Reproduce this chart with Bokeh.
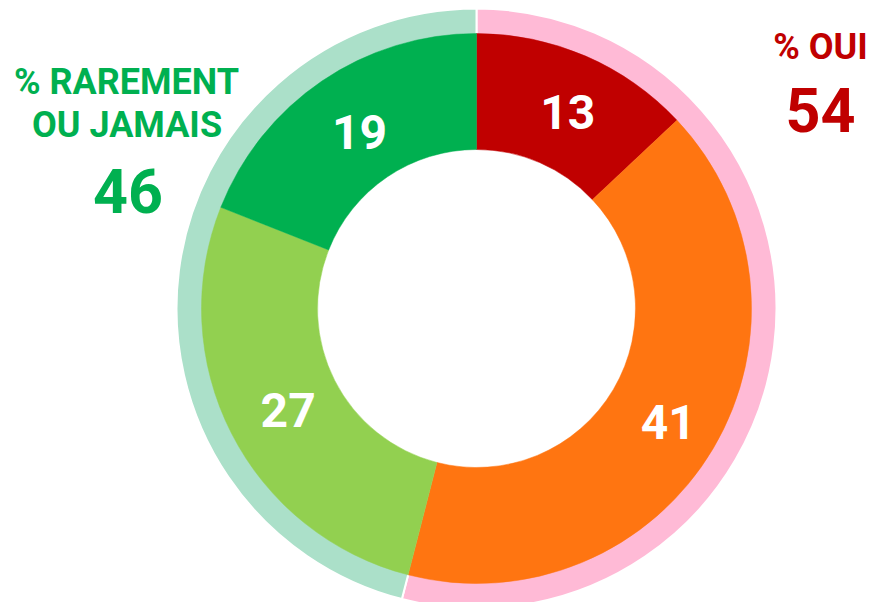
import math
from bokeh.plotting import figure
from bokeh.models import Range1d, ColumnDataSource
from bokeh.core.properties import value
from bokeh.embed import file_html
from bokeh.resources import INLINE

# ---- data ----
segment_values = [13, 41, 27, 19]
segment_labels = ["13", "41", "27", "19"]
segment_colors = ["#C00000", "#FF7511", "#92D050", "#00B050"]

group_values = [54, 46]
group_title_lines = [["% OUI"], ["% RAREMENT", "OU JAMAIS"]]
group_labels = ["54", "46"]
group_ring_colors = ["#FFBAD6", "#ABE0C9"]
group_text_colors = ["#C00000", "#00B050"]

# ---- layout (pixel-like data coordinates: x = image x, y = 602 - image y) ----
W, H = 879, 602
FONT = "Roboto"
p = figure(width=W, height=H, output_backend="svg", toolbar_location=None,
           x_range=Range1d(0, W), y_range=Range1d(602 - H, 602),
           min_border=0, background_fill_color="white", border_fill_color="white")
p.axis.visible = False
p.grid.visible = False
p.outline_line_color = None

cx, cy = 476, 602 - 308
r_in, r_out, r_ring = 159, 275, 300


def wedges(values):
    total = float(sum(values))
    starts, ends, mids = [], [], []
    acc = 0.0
    for v in values:
        f0, f1 = acc / total, (acc + v) / total
        # clockwise from 12 o'clock
        starts.append(math.pi / 2 - 2 * math.pi * f1)
        ends.append(math.pi / 2 - 2 * math.pi * f0)
        mids.append((f0 + f1) / 2)
        acc += v
    return starts, ends, mids


# outer group ring
gs, ge, _ = wedges(group_values)
ring_src = ColumnDataSource(dict(s=gs, e=ge, c=group_ring_colors))
p.annular_wedge(x=cx, y=cy, inner_radius=r_out - 2, outer_radius=r_ring,
                start_angle="s", end_angle="e", fill_color="c",
                line_color="white", line_width=2, source=ring_src)

# main donut
ss, se, sm = wedges(segment_values)
seg_src = ColumnDataSource(dict(s=ss, e=se, c=segment_colors))
p.annular_wedge(x=cx, y=cy, inner_radius=r_in, outer_radius=r_out,
                start_angle="s", end_angle="e", fill_color="c",
                line_color="c", line_width=0.5, source=seg_src)

# segment labels (y given at the visual centre of the digits)
r_lab = 217
num_size = 48
lx, ly = [], []
for m in sm:
    a = 2 * math.pi * m
    lx.append(cx + r_lab * math.sin(a) + 5)
    ly.append(cy + r_lab * math.cos(a) - 3)
lab_src = ColumnDataSource(dict(x=lx, y=ly, t=segment_labels))
p.text(x="x", y="y", text="t", source=lab_src, text_color="white",
       text_font=value(FONT), text_font_style="bold",
       text_font_size=f"{num_size}px", text_align="center",
       text_baseline="alphabetic")

title_size = 36
big_size = 61
# "% OUI" / 54 on the right
p.text(x=[820], y=[602 - 46], text=group_title_lines[0],
       text_color=group_text_colors[0], text_font=value(FONT),
       text_font_style="bold", text_font_size=f"{title_size}px",
       text_align="center", text_baseline="alphabetic")
p.text(x=[820], y=[602 - 109], text=[group_labels[0]],
       text_color=group_text_colors[0], text_font=value(FONT),
       text_font_style="bold", text_font_size=f"{big_size}px",
       text_align="center", text_baseline="alphabetic")
# "% RAREMENT OU JAMAIS" / 46 on the left
p.text(x=[126, 126.5], y=[602 - 81.5, 602 - 124], text=group_title_lines[1],
       text_color=group_text_colors[1], text_font=value(FONT),
       text_font_style="bold", text_font_size=f"{title_size}px",
       text_align="center", text_baseline="alphabetic")
p.text(x=[127.5], y=[602 - 190], text=[group_labels[1]],
       text_color=group_text_colors[1], text_font=value(FONT),
       text_font_style="bold", text_font_size=f"{big_size}px",
       text_align="center", text_baseline="alphabetic")

open("out.html", "w").write(file_html(p, INLINE))
